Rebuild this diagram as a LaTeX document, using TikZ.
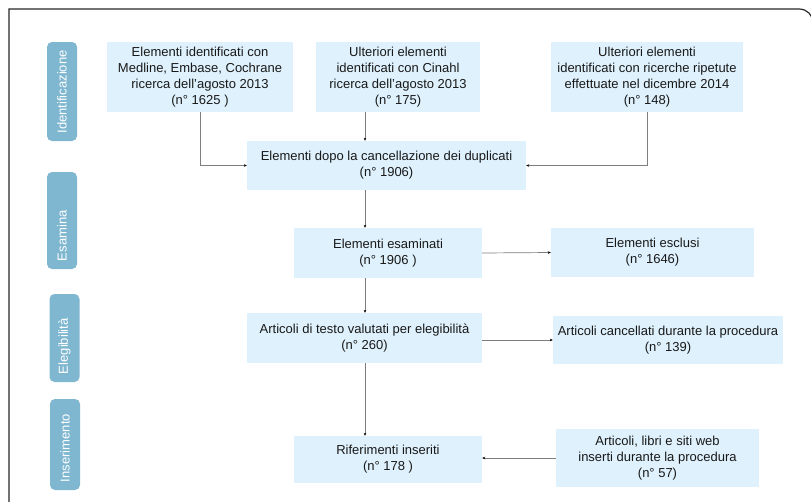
\documentclass[tikz,border=0pt]{standalone}
\usepackage{fontspec}
\setmainfont{Liberation Sans}
\usetikzlibrary{arrows.meta}
\definecolor{boxblue}{RGB}{222,241,252}
\definecolor{tagblue}{RGB}{127,183,209}
\definecolor{linegray}{RGB}{125,125,125}
\begin{document}
\begin{tikzpicture}[x=1pt,y=-1pt,
    box/.style={fill=boxblue,inner sep=0pt,align=center,text=black!90,
        font=\fontsize{13}{16}\selectfont},
    tag/.style={fill=tagblue,rounded corners=5pt,inner xsep=8pt,inner ysep=0pt,
        rotate=90,align=flush left,text=white,minimum height=30pt,
        font=\fontsize{13}{15}\selectfont},
    arr/.style={draw=linegray,line width=0.7pt,
        -{Stealth[length=3pt,width=2.6pt,black]}}]
\path[use as bounding box,clip] (0,0) rectangle (811,501);
\draw[line width=1.2pt,black!85] (9,520) -- (9,9) -- (799,9)
    .. controls (807,9) and (813,15) .. (813,23) -- (813,520);
\begin{scope}
    \node[tag,inner xsep=7.5pt,text width=84pt] (tagid) at (62,91.5) {Identificazione};
    \node[tag,text width=81pt] (tagesa) at (62,220.5) {Esamina};
    \node[tag,text width=72pt] (tageleg) at (64.5,338) {Elegibilità};
    \node[tag,text width=75pt] (tagins) at (65,444.5) {Inserimento};
\end{scope}
\node[box,minimum width=186pt,minimum height=70pt] (medline) at (200,77)
    {Elementi identificati con\\Medline, Embase, Cochrane\\ricerca dell’agosto 2013\\(n° 1625 )};
\node[box,minimum width=164pt,minimum height=70pt] (cinahl) at (398,77)
    {Ulteriori elementi\\identificati con Cinahl\\ricerca dell’agosto 2013\\(n° 175)};
\node[box,minimum width=192pt,minimum height=70pt] (ripetute) at (647,77)
    {Ulteriori elementi\\identificati con ricerche ripetute\\effettuate nel dicembre 2014\\(n° 148)};
\node[box,minimum width=279pt,minimum height=49pt] (duplicati) at (386.5,165.5)
    {Elementi dopo la cancellazione dei duplicati\\(n° 1906)};
\node[box,minimum width=188pt,minimum height=50pt] (esaminati) at (388,253)
    {Elementi esaminati\\(n° 1906 )};
\node[box,minimum width=203pt,minimum height=49pt] (esclusi) at (652.5,252.5)
    {Elementi esclusi\\(n° 1646)};
\node[box,minimum width=235pt,minimum height=50pt] (testo) at (364.5,338)
    {Articoli di testo valutati per elegibilità\\(n° 260)};
\node[box,minimum width=230pt,minimum height=48pt] (cancellati) at (668,340)
    {Articoli cancellati durante la procedura\\(n° 139)};
\node[box,minimum width=188pt,minimum height=47pt] (inseriti) at (388,459.5)
    {Riferimenti inseriti\\(n° 178 )};
\node[box,minimum width=203pt,minimum height=58pt] (web) at (657.5,458)
    {Articoli, libri e siti web\\inserti durante la procedura\\(n° 57)};
\coordinate (trunk) at (365,0);
\draw[arr] (medline.south) |- (duplicati.west);
\draw[arr] (cinahl.south -| trunk) -- (duplicati.north -| trunk);
\draw[arr] (ripetute.south) |- (duplicati.east);
\draw[arr] (duplicati.south -| trunk) -- (esaminati.north -| trunk);
\draw[arr] (esaminati.east) -- (esclusi.west);
\draw[arr] (esaminati.south -| trunk) -- (testo.north -| trunk);
\draw[arr] (cancellati.west -| testo.east) -- (cancellati.west);
\draw[arr] (testo.south -| trunk) -- (inseriti.north -| trunk);
\draw[arr] (web.west) -- (web.west -| inseriti.east);
\end{tikzpicture}
\end{document}
